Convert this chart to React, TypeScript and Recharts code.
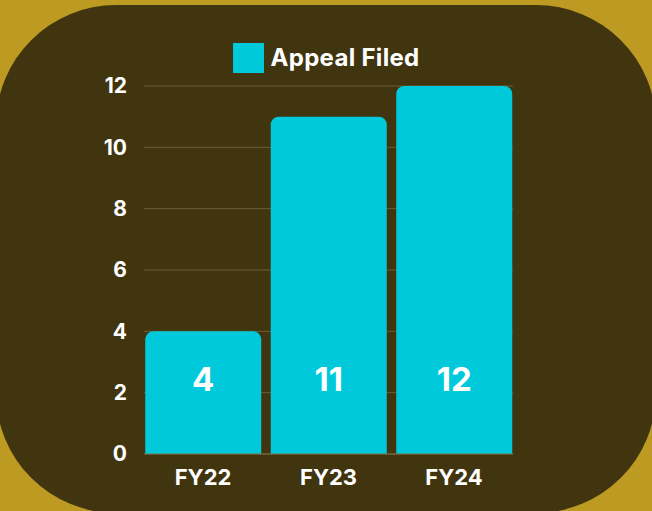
import React from "react";
import { BarChart, Bar, XAxis, YAxis, CartesianGrid, Legend, LabelList } from "recharts";

const categories = ["FY22", "FY23", "FY24"];
const appealFiled = [4, 11, 12];
const yTicks = [0, 2, 4, 6, 8, 10, 12];
const seriesName = "Appeal Filed";

const data = categories.map((c, i) => ({ name: c, value: appealFiled[i] }));

const FONT = "Inter, 'Open Sans', sans-serif";
const CYAN = "#00C9DB";

const LegendContent = () => (
  <div
    style={{
      height: 50,
      display: "flex",
      justifyContent: "center",
      alignItems: "flex-start",
      paddingTop: 7,
      paddingLeft: 55,
      boxSizing: "border-box",
      fontFamily: FONT,
    }}
  >
    <div style={{ display: "flex", alignItems: "center" }}>
      <div style={{ width: 31, height: 30, background: CYAN, marginRight: 7 }} />
      <span
        style={{
          color: "#fff",
          fontSize: 24,
          fontWeight: 700,
          lineHeight: "30px",
          letterSpacing: 0.3,
        }}
      >
        {seriesName}
      </span>
    </div>
  </div>
);

const ValueLabel = (props: any) => {
  const { x, y, width, height, value } = props;
  return (
    <text
      x={x + width / 2}
      y={y + height - 75}
      textAnchor="middle"
      dominantBaseline="central"
      fill="#fff"
      fontSize={33}
      fontWeight={700}
      fontFamily={FONT}
    >
      {value}
    </text>
  );
};

export default function App() {
  return (
    <div
      style={{
        position: "absolute",
        left: 0,
        top: 0,
        width: 652,
        height: 511,
        background: "#BD9B23",
        overflow: "hidden",
      }}
    >
      <div
        style={{
          position: "absolute",
          left: -4,
          top: 5,
          width: 660,
          height: 508,
          borderRadius: 120,
          background: "#40350F",
        }}
      />
      <div style={{ position: "absolute", left: 0, top: 0 }}>
        <BarChart
          width={652}
          height={511}
          data={data}
          margin={{ top: 36, right: 139, bottom: 0, left: 84 }}
        >
          <CartesianGrid vertical={false} stroke="#6A5D37" strokeWidth={1} />
          <Legend verticalAlign="top" content={<LegendContent />} />
          <XAxis
            dataKey="name"
            height={57}
            padding={{ left: -3.75, right: -3.75 }}
            axisLine={{ stroke: "#7A6B45" }}
            tickLine={false}
            tickMargin={9}
            tick={{ fill: "#fff", fontSize: 22, fontWeight: 700, fontFamily: FONT }}
          />
          <YAxis
            width={60}
            domain={[0, 12]}
            ticks={yTicks}
            axisLine={false}
            tickLine={false}
            tickMargin={11}
            tick={{ fill: "#fff", fontSize: 21, fontWeight: 700, fontFamily: FONT }}
          />
          <Bar
            dataKey="value"
            name={seriesName}
            fill={CYAN}
            barSize={116}
            radius={[8, 8, 0, 0]}
            isAnimationActive={false}
          >
            <LabelList dataKey="value" content={<ValueLabel />} />
          </Bar>
        </BarChart>
      </div>
    </div>
  );
}
